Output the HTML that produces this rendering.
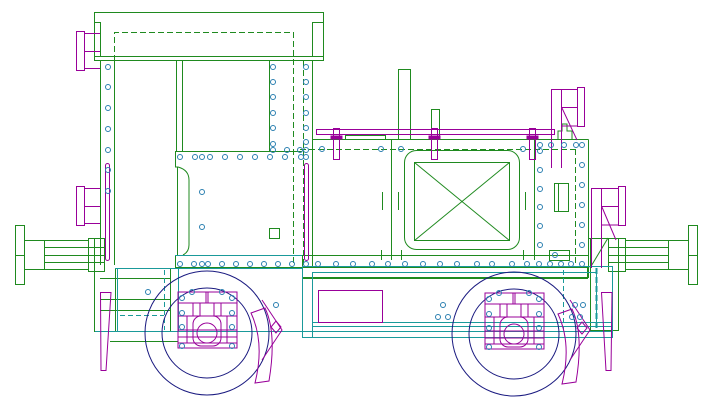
<!DOCTYPE html>
<html><head><meta charset="utf-8"><style>html,body{margin:0;padding:0;background:#fff}svg{display:block}</style></head>
<body>
<svg width="711" height="412" viewBox="0 0 711 412" xmlns="http://www.w3.org/2000/svg" fill="none" stroke-width="1">
<defs>
<g id="wheel">
 <circle cx="0" cy="0" r="62" stroke="#1a1a80"/>
 <circle cx="0" cy="0" r="45" stroke="#1a1a80"/>
 <g stroke="#990099">
  <rect x="-29" y="-41" width="59" height="56"/>
  <line x1="-29" y1="-30" x2="30" y2="-30"/>
  <line x1="-29" y1="-17" x2="30" y2="-17"/>
  <line x1="-29" y1="-3" x2="30" y2="-3"/>
  <line x1="-29" y1="4" x2="30" y2="4"/>
  <line x1="-29" y1="10" x2="30" y2="10"/>
  <rect x="-14" y="-30" width="28" height="13"/>
  <line x1="-7" y1="-30" x2="-7" y2="-17"/><line x1="7" y1="-30" x2="7" y2="-17"/>
  <line x1="-1" y1="-41" x2="-1" y2="-30"/><line x1="1" y1="-41" x2="1" y2="-30"/>
  <rect x="-14" y="-17" width="28" height="30" rx="8"/>
  <circle cx="0" cy="0" r="10"/>
  <line x1="-20" y1="-17" x2="-20" y2="10"/><line x1="20" y1="-17" x2="20" y2="10"/>
 </g>
 <g stroke="#2a7fb0">
  <circle cx="-25" cy="-35" r="2.5"/><circle cx="25" cy="-35" r="2.5"/>
  <circle cx="-25" cy="-20" r="2.5"/><circle cx="25" cy="-20" r="2.5"/>
  <circle cx="-25" cy="-6" r="2.5"/><circle cx="25" cy="-6" r="2.5"/>
  <circle cx="-25" cy="13" r="2.5"/><circle cx="25" cy="13" r="2.5"/>
  <circle cx="-15" cy="-41" r="2.5"/><circle cx="15" cy="-41" r="2.5"/>
 </g>
 <path d="M44,-20 L58,-25 Q70,0 62,48 L48,50 Q58,10 44,-20 Z" stroke="#990099"/>
</g>
</defs>

<!-- ROOF -->
<g stroke="#1f8a1f">
 <rect x="94.5" y="12.5" width="229" height="48"/>
 <line x1="94.5" y1="56.5" x2="323.5" y2="56.5"/>
 <line x1="100.5" y1="22" x2="100.5" y2="56"/>
 <line x1="312.5" y1="22" x2="312.5" y2="56"/>
 <line x1="312.5" y1="22.5" x2="323.5" y2="22.5"/>
 <line x1="94.5" y1="22.5" x2="100.5" y2="22.5"/>
 <path d="M114.5,61 V32.5 H293.5 V265" stroke-dasharray="6,3"/>
 <!-- cab walls -->
 <line x1="100.5" y1="61" x2="100.5" y2="265"/>
 <line x1="114.5" y1="61" x2="114.5" y2="265"/>
 <line x1="312.5" y1="61" x2="312.5" y2="268"/>
 <line x1="303.5" y1="61" x2="303.5" y2="265" stroke-dasharray="6,3"/>
 <!-- window -->
 <line x1="176.5" y1="61" x2="176.5" y2="151"/>
 <line x1="182.5" y1="61" x2="182.5" y2="151"/>
 <line x1="269.5" y1="61" x2="269.5" y2="151.5"/>
 <line x1="182.5" y1="151.5" x2="269.5" y2="151.5"/>
 <!-- panel -->
 <path d="M302,151.5 H175.5 V167 H178 Q189,170 189,180 V245 Q189,252 183,255"/>
 <line x1="177.5" y1="167" x2="177.5" y2="255"/>
 <rect x="175.5" y="255.5" width="127" height="12"/>
 <rect x="269.5" y="228.5" width="10" height="10"/>
 <!-- body -->
 <line x1="312" y1="139.5" x2="588.5" y2="139.5"/>
 <line x1="588.5" y1="139.5" x2="588.5" y2="268"/>
 <rect x="345.5" y="135.5" width="40" height="4"/>
 <rect x="398.5" y="69.5" width="12" height="70"/>
 <rect x="431.5" y="109.5" width="8" height="30"/>
 <line x1="391.5" y1="139" x2="391.5" y2="260"/>
 <line x1="534.5" y1="139" x2="534.5" y2="260"/>
 <line x1="382.5" y1="192" x2="382.5" y2="210"/>
 <line x1="398.5" y1="192" x2="398.5" y2="210"/>
 <line x1="525.5" y1="192" x2="525.5" y2="210"/>
 <line x1="381.5" y1="250" x2="381.5" y2="260"/><line x1="401.5" y1="250" x2="401.5" y2="260"/><line x1="523.5" y1="250" x2="523.5" y2="260"/>
 <rect x="404.5" y="150.5" width="115" height="99" rx="12"/>
 <rect x="414.5" y="162.5" width="95" height="78"/>
 <line x1="414.5" y1="162.5" x2="509.5" y2="240.5"/>
 <line x1="509.5" y1="162.5" x2="414.5" y2="240.5"/>
 <line x1="300" y1="149.5" x2="575" y2="149.5" stroke-dasharray="6,3"/>
 <line x1="575.5" y1="149" x2="575.5" y2="268" stroke-dasharray="6,3"/>
 <rect x="554.5" y="183.5" width="14" height="28"/>
 <line x1="558.5" y1="183.5" x2="558.5" y2="211.5"/>
 <rect x="549.5" y="250.5" width="20" height="10"/>
 <path d="M558,139 V131 H562 V124 H567 V131 H572 V139"/>
 <!-- lower band -->
 <rect x="302.5" y="255.5" width="286" height="12"/>
 <line x1="302" y1="278" x2="588" y2="278" stroke-width="2"/>
 <line x1="588" y1="268" x2="588" y2="278" stroke-width="2"/>
 <!-- left buffer -->
 <rect x="15.5" y="225.5" width="9" height="59"/>
 <line x1="15.5" y1="255.5" x2="24.5" y2="255.5"/>
 <rect x="24.5" y="240.5" width="64" height="29"/>
 <line x1="44.5" y1="240.5" x2="44.5" y2="269.5"/>
 <line x1="44.5" y1="247.5" x2="104" y2="247.5"/><line x1="44.5" y1="255.5" x2="104" y2="255.5"/><line x1="44.5" y1="262.5" x2="104" y2="262.5"/>
 <rect x="88.5" y="238.5" width="16" height="33"/>
 <line x1="94.5" y1="238.5" x2="94.5" y2="271"/>
 <!-- right buffer -->
 <rect x="688.5" y="225.5" width="9" height="59"/>
 <line x1="688.5" y1="255.5" x2="697.5" y2="255.5"/>
 <rect x="625.5" y="240.5" width="63" height="29"/>
 <line x1="668.5" y1="240.5" x2="668.5" y2="269.5"/>
 <line x1="608" y1="247.5" x2="668" y2="247.5"/><line x1="608" y1="255.5" x2="668" y2="255.5"/><line x1="608" y1="262.5" x2="668" y2="262.5"/>
 <rect x="608.5" y="238.5" width="17" height="33"/>
 <line x1="618.5" y1="238.5" x2="618.5" y2="271"/>
 <path d="M588.5,238.5 H608 M590.5,238.5 V330.5 H618.5 V271"/>
 <line x1="590" y1="268" x2="608" y2="238"/>
 <!-- left frame -->
 <path d="M94.5,260 V331.5 H115"/>
 <rect x="115.5" y="268.5" width="55" height="63"/>
 <line x1="100" y1="278.5" x2="170" y2="278.5"/><line x1="100" y1="299.5" x2="170" y2="299.5"/><line x1="100" y1="310.5" x2="170" y2="310.5"/>
 <path d="M110,341.5 H178 V331"/>
</g>

<!-- TEAL frame -->
<g stroke="#1a9a9a">
 <path d="M115,268.5 H302"/>
 <rect x="117.5" y="268.5" width="61" height="63"/>
 <line x1="164.5" y1="270" x2="164.5" y2="330" stroke-dasharray="5,3"/>
 <line x1="120" y1="315.5" x2="164" y2="315.5" stroke-dasharray="5,3"/>
 <line x1="175" y1="255.5" x2="302" y2="255.5"/>
 <rect x="302.5" y="266.5" width="310" height="71"/>
 <rect x="312.5" y="272.5" width="284" height="50"/>
 <line x1="95" y1="331.5" x2="612" y2="331.5"/>
 <line x1="312" y1="326.5" x2="612" y2="326.5"/>
 <line x1="312" y1="322.5" x2="612" y2="322.5"/>
 <line x1="302" y1="337.5" x2="612" y2="337.5"/>
 <line x1="312.5" y1="322" x2="312.5" y2="338"/>
 <line x1="563.5" y1="270" x2="563.5" y2="330" stroke-dasharray="5,3"/>
 <line x1="596.5" y1="268" x2="596.5" y2="330" stroke-width="2" stroke-dasharray="6,3"/>
</g>

<!-- WHEELS -->
<use href="#wheel" transform="translate(207,333)"/>
<use href="#wheel" transform="translate(514,334)"/>
<g stroke="#990099">
 <path d="M276,333 l-5,-6 l5,-6 l5,6 Z"/>
 <path d="M582,334 l-5,-6 l5,-6 l5,6 Z"/>
 <path d="M262,300 L282,330 L262,360" stroke="#990099"/>
 <path d="M570,300 L590,330 L570,360"/>
</g>

<!-- PURPLE parts -->
<g stroke="#990099">
 <!-- left lamps -->
 <rect x="76.5" y="31.5" width="8" height="39"/>
 <path d="M84.5,33.5 H100 M84.5,51.5 H100 M84.5,68.5 H100"/>
 <rect x="76.5" y="186.5" width="8" height="39"/>
 <path d="M84.5,188.5 H100 M84.5,206.5 H100 M84.5,223.5 H100"/>
 <!-- ladders -->
 <rect x="105.5" y="163.5" width="4" height="97" rx="2"/>
 <rect x="304.5" y="163.5" width="4" height="97" rx="2"/>
 <!-- handrail -->
 <rect x="316.5" y="129.5" width="238" height="5"/>
 <rect x="333.5" y="128.5" width="6" height="31"/>
 <rect x="431.5" y="128.5" width="6" height="31"/>
 <rect x="529.5" y="128.5" width="6" height="31"/>
 <rect x="331" y="136" width="11" height="3" fill="#990099"/>
 <rect x="429" y="136" width="11" height="3" fill="#990099"/>
 <rect x="527" y="136" width="11" height="3" fill="#990099"/>
 <!-- top right lamp -->
 <rect x="577.5" y="87.5" width="7" height="39"/>
 <path d="M551.5,168 V89.5 H577 M561.5,168 V89.5 M561.5,107.5 H577 M561.5,126 H577 M561.5,107 L577,140"/>
 <!-- mid right lamp -->
 <rect x="618.5" y="186.5" width="7" height="39"/>
 <path d="M591.5,268 V188.5 H618 M601.5,268 V188.5 M601.5,206.5 H618 M601.5,225 H618 M601.5,206 L616,240"/>
 <!-- middle rect -->
 <rect x="318.5" y="290.5" width="64" height="32"/>
 <!-- pilots -->
 <path d="M100.5,292.5 H111 L106,370.5 H101 Z"/>
 <path d="M601.5,292.5 H612 L611,370.5 H606 Z"/>
</g>

<!-- RIVETS -->
<g stroke="#2a7fb0">
 <g id="r">
 <circle cx="108" cy="67" r="2.5"/><circle cx="108" cy="87" r="2.5"/><circle cx="108" cy="108" r="2.5"/><circle cx="108" cy="129" r="2.5"/><circle cx="108" cy="150" r="2.5"/><circle cx="108" cy="170" r="2.5"/><circle cx="108" cy="191" r="2.5"/>
 <circle cx="273" cy="67" r="2.5"/><circle cx="273" cy="82" r="2.5"/><circle cx="273" cy="97" r="2.5"/><circle cx="273" cy="113" r="2.5"/><circle cx="273" cy="128" r="2.5"/><circle cx="273" cy="144" r="2.5"/><circle cx="273" cy="150" r="2.5"/>
 <circle cx="306" cy="67" r="2.5"/><circle cx="306" cy="82" r="2.5"/><circle cx="306" cy="97" r="2.5"/><circle cx="306" cy="113" r="2.5"/><circle cx="306" cy="128" r="2.5"/><circle cx="306" cy="142" r="2.5"/><circle cx="306" cy="150" r="2.5"/>
 <circle cx="287" cy="150" r="2.5"/><circle cx="300" cy="150" r="2.5"/><circle cx="322" cy="149" r="2.5"/><circle cx="381" cy="149" r="2.5"/><circle cx="401" cy="149" r="2.5"/><circle cx="523" cy="149" r="2.5"/>
 <circle cx="180" cy="157" r="2.5"/><circle cx="195" cy="157" r="2.5"/><circle cx="202" cy="157" r="2.5"/><circle cx="210" cy="157" r="2.5"/><circle cx="225" cy="157" r="2.5"/><circle cx="240" cy="157" r="2.5"/><circle cx="255" cy="157" r="2.5"/><circle cx="270" cy="157" r="2.5"/><circle cx="285" cy="157" r="2.5"/><circle cx="301" cy="157" r="2.5"/><circle cx="306" cy="157" r="2.5"/>
 <circle cx="202" cy="192" r="2.5"/><circle cx="202" cy="227" r="2.5"/>
 <circle cx="180" cy="264" r="2.5"/><circle cx="194" cy="264" r="2.5"/><circle cx="202" cy="264" r="2.5"/><circle cx="208" cy="264" r="2.5"/><circle cx="222" cy="264" r="2.5"/><circle cx="236" cy="264" r="2.5"/><circle cx="250" cy="264" r="2.5"/><circle cx="264" cy="264" r="2.5"/><circle cx="278" cy="264" r="2.5"/><circle cx="292" cy="264" r="2.5"/><circle cx="306" cy="264" r="2.5"/>
 <circle cx="318" cy="264" r="2.5"/><circle cx="336" cy="264" r="2.5"/><circle cx="353" cy="264" r="2.5"/><circle cx="372" cy="264" r="2.5"/><circle cx="388" cy="264" r="2.5"/><circle cx="405" cy="264" r="2.5"/><circle cx="423" cy="264" r="2.5"/><circle cx="440" cy="264" r="2.5"/><circle cx="457" cy="264" r="2.5"/><circle cx="477" cy="264" r="2.5"/><circle cx="492" cy="264" r="2.5"/><circle cx="512" cy="264" r="2.5"/><circle cx="527" cy="264" r="2.5"/><circle cx="539" cy="264" r="2.5"/><circle cx="550" cy="264" r="2.5"/><circle cx="561" cy="264" r="2.5"/><circle cx="571" cy="264" r="2.5"/><circle cx="582" cy="264" r="2.5"/>
 <circle cx="540" cy="145" r="2.5"/><circle cx="551" cy="145" r="2.5"/><circle cx="564" cy="145" r="2.5"/><circle cx="576" cy="145" r="2.5"/><circle cx="582" cy="145" r="2.5"/><circle cx="540" cy="151" r="2.5"/>
 <circle cx="540" cy="170" r="2.5"/><circle cx="540" cy="189" r="2.5"/><circle cx="540" cy="207" r="2.5"/><circle cx="540" cy="226" r="2.5"/><circle cx="540" cy="245" r="2.5"/>
 <circle cx="582" cy="165" r="2.5"/><circle cx="582" cy="185" r="2.5"/><circle cx="582" cy="205" r="2.5"/><circle cx="582" cy="225" r="2.5"/><circle cx="582" cy="245" r="2.5"/><circle cx="555" cy="255" r="2.5"/>
 <circle cx="148" cy="292" r="2.5"/><circle cx="276" cy="305" r="2.5"/>
 <circle cx="443" cy="305" r="2.5"/><circle cx="438" cy="317" r="2.5"/><circle cx="448" cy="317" r="2.5"/>
 <circle cx="575" cy="305" r="2.5"/><circle cx="583" cy="305" r="2.5"/><circle cx="572" cy="317" r="2.5"/><circle cx="580" cy="317" r="2.5"/>
 </g>
</g>
</svg>
</body></html>
